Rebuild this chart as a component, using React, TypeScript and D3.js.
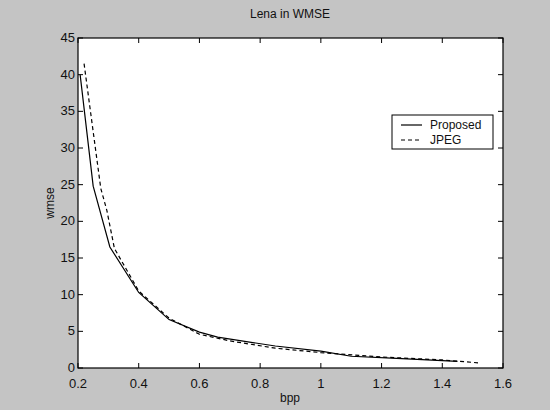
import React from "react";
import * as d3 from "d3";

// values
const proposedBpp = [0.207, 0.25, 0.305, 0.4, 0.5, 0.6, 0.66, 0.85, 1.0, 1.1, 1.25, 1.45];
const proposedWmse = [40, 24.8, 16.5, 10.3, 6.6, 4.9, 4.2, 3.0, 2.3, 1.6, 1.3, 0.9];
const jpegBpp = [0.22, 0.275, 0.295, 0.32, 0.4, 0.5, 0.6, 0.7, 0.85, 1.0, 1.2, 1.4, 1.52];
const jpegWmse = [41.5, 24.5, 21.5, 16.3, 10.5, 6.8, 4.6, 3.7, 2.7, 2.1, 1.5, 1.1, 0.7];
const xTicks = [0.2, 0.4, 0.6, 0.8, 1, 1.2, 1.4, 1.6];
const yTicks = [0, 5, 10, 15, 20, 25, 30, 35, 40, 45];

const W = 550;
const H = 410;
const margin = { top: 38, right: 47, bottom: 42, left: 78 };
const font = "'Liberation Sans', Arial, sans-serif";

export default function App() {
  const x = d3.scaleLinear().domain([0.2, 1.6]).range([margin.left, W - margin.right]);
  const y = d3.scaleLinear().domain([0, 45]).range([H - margin.bottom, margin.top]);

  const line = d3
    .line<[number, number]>()
    .x((d) => x(d[0]))
    .y((d) => y(d[1]));

  const proposed = proposedBpp.map((b, i) => [b, proposedWmse[i]] as [number, number]);
  const jpeg = jpegBpp.map((b, i) => [b, jpegWmse[i]] as [number, number]);

  const x0 = margin.left;
  const x1 = W - margin.right;
  const y0 = H - margin.bottom;
  const y1 = margin.top;
  const tick = 5;

  // legend box
  const lg = { x: 392, y: 115, w: 101, h: 34 };

  return (
    <svg
      width={W}
      height={H}
      style={{ position: "absolute", left: 0, top: 0 }}
      fontFamily={font}
    >
      <rect x={0} y={0} width={W} height={H} fill="#c4c4c4" />
      <rect x={x0} y={y1} width={x1 - x0} height={y0 - y1} fill="#fff" stroke="#000" strokeWidth={1.2} />

      {/* x ticks, bottom and top */}
      {xTicks.map((t) => (
        <g key={"x" + t}>
          <line x1={x(t)} x2={x(t)} y1={y0} y2={y0 - tick} stroke="#000" />
          <line x1={x(t)} x2={x(t)} y1={y1} y2={y1 + tick} stroke="#000" />
          <text x={x(t)} y={y0 + 20} textAnchor="middle" fontSize={13} fill="#111">
            {String(t)}
          </text>
        </g>
      ))}

      {/* y ticks, left and right */}
      {yTicks.map((t) => (
        <g key={"y" + t}>
          <line x1={x0} x2={x0 + tick} y1={y(t)} y2={y(t)} stroke="#000" />
          <line x1={x1} x2={x1 - tick} y1={y(t)} y2={y(t)} stroke="#000" />
          <text x={x0 - 3} y={y(t) + 4} textAnchor="end" fontSize={13} fill="#111">
            {t}
          </text>
        </g>
      ))}

      <path d={line(proposed) ?? ""} fill="none" stroke="#000" strokeWidth={1.2} />
      <path d={line(jpeg) ?? ""} fill="none" stroke="#000" strokeWidth={1.2} strokeDasharray="4,3" />

      <text x={290} y={18} textAnchor="middle" fontSize={12} fill="#111">
        Lena in WMSE
      </text>
      <text x={290} y={402} textAnchor="middle" fontSize={12} fill="#111">
        bpp
      </text>
      <text
        transform={`translate(54,${(y0 + y1) / 2}) rotate(-90)`}
        textAnchor="middle"
        fontSize={12}
        fill="#111"
      >
        wmse
      </text>

      <rect x={lg.x} y={lg.y} width={lg.w} height={lg.h} fill="#fff" stroke="#000" />
      <line x1={lg.x + 9} x2={lg.x + 30} y1={lg.y + 10} y2={lg.y + 10} stroke="#000" strokeWidth={1.2} />
      <line
        x1={lg.x + 9}
        x2={lg.x + 30}
        y1={lg.y + 25}
        y2={lg.y + 25}
        stroke="#000"
        strokeWidth={1.2}
        strokeDasharray="4,3"
      />
      <text x={lg.x + 38} y={lg.y + 14} fontSize={12} fill="#111">
        Proposed
      </text>
      <text x={lg.x + 38} y={lg.y + 29} fontSize={12} fill="#111">
        JPEG
      </text>
    </svg>
  );
}
